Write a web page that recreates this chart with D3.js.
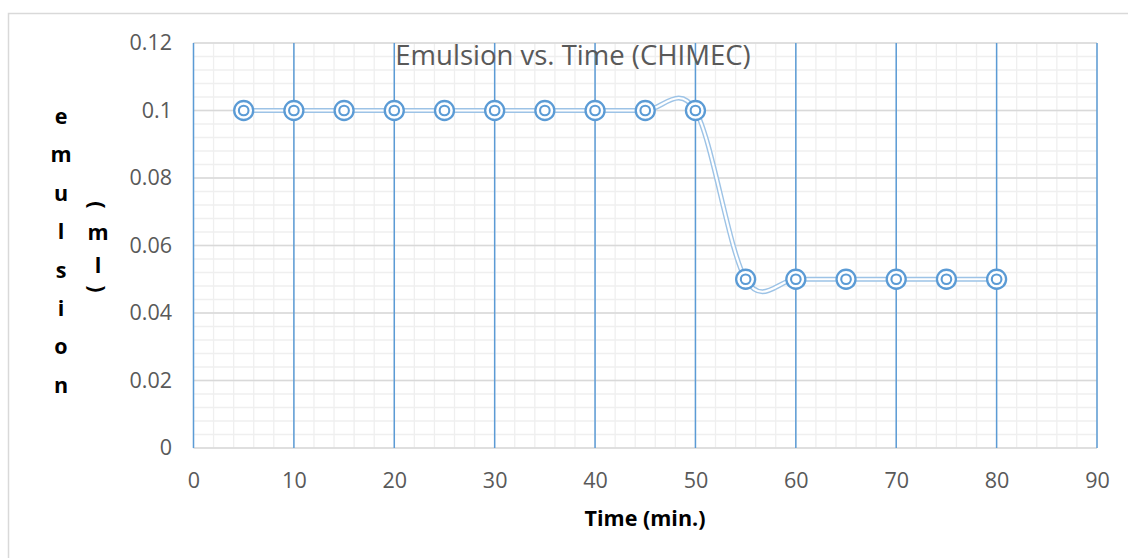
<!DOCTYPE html>
<html><head><meta charset="utf-8">
<script src="https://cdn.jsdelivr.net/npm/d3@7"></script>
<style>body{margin:0;background:#fff}svg{display:block}</style>
</head><body>
<svg id="c" width="1128" height="558"></svg>
<script>
const times = [5,10,15,20,25,30,35,40,45,50,55,60,65,70,75,80];
const emulsion = [0.1,0.1,0.1,0.1,0.1,0.1,0.1,0.1,0.1,0.1,0.05,0.05,0.05,0.05,0.05,0.05];
const xTicks = [0,10,20,30,40,50,60,70,80,90];
const yTicks = [0,0.02,0.04,0.06,0.08,0.1,0.12];
const yLabelChars = ["e","m","u","l","s","i","o","n"];
const unitChars = ["(","m","l",")"];
const title = "Emulsion vs. Time (CHIMEC)";
const xTitle = "Time (min.)";

const svg = d3.select("#c");
const font = "'Open Sans', sans-serif";
const x = d3.scaleLinear().domain([0,90]).range([193.5,1097]);
const y = d3.scaleLinear().domain([0,0.12]).range([448,43]);

// chart border
svg.append("path").attr("d","M8.5,570V13.5H1140").attr("fill","none").attr("stroke","#d9d9d9").attr("stroke-width",1.5);

// minor grid
const g = svg.append("g");
g.selectAll(".mh").data(d3.range(0,0.1201,0.004)).join("line")
 .attr("x1",x(0)).attr("x2",x(90)).attr("y1",d=>y(d)).attr("y2",d=>y(d))
 .attr("stroke","#efefef").attr("stroke-width",1.3);
g.selectAll(".mv").data(d3.range(0,90.01,2)).join("line")
 .attr("y1",y(0)).attr("y2",y(0.12)).attr("x1",d=>x(d)).attr("x2",d=>x(d))
 .attr("stroke","#efefef").attr("stroke-width",1.3);
// major horizontal
g.selectAll(".Mh").data(yTicks).join("line")
 .attr("x1",x(0)).attr("x2",x(90)).attr("y1",d=>y(d)).attr("y2",d=>y(d))
 .attr("stroke","#d9d9d9").attr("stroke-width",1.3);
// major vertical (blue)
g.selectAll(".Mv").data(xTicks).join("line")
 .attr("y1",y(0)).attr("y2",y(0.12)).attr("x1",d=>x(d)).attr("x2",d=>x(d))
 .attr("stroke","#5b9bd5").attr("stroke-width",1.5);

// axes tick labels
const xa = svg.append("g").attr("transform",`translate(0,${y(0)})`)
 .call(d3.axisBottom(x).tickValues(xTicks).tickSize(0).tickPadding(25).tickFormat(d3.format("d")));
xa.select(".domain").remove();
xa.selectAll("text").attr("font-family",font).attr("font-size",21.5).attr("fill","#595959");
const ya = svg.append("g").attr("transform",`translate(172,0)`)
 .call(d3.axisLeft(y).tickValues(yTicks).tickSize(0).tickPadding(0).tickFormat(d=>d===0?"0":String(+d.toFixed(2))));
ya.select(".domain").remove();
ya.selectAll("text").attr("font-family",font).attr("font-size",21.5).attr("fill","#595959");

// title
svg.append("text").attr("x",573).attr("y",65).attr("text-anchor","middle")
 .attr("font-family",font).attr("font-size",27.5).attr("fill","#595959").text(title);

// series line (double compound line)
const line = d3.line().x((d,i)=>x(times[i])).y(d=>y(d)).curve(d3.curveCardinal.tension(0));
svg.append("path").attr("d",line(emulsion)).attr("fill","none").attr("stroke","#9dc3e6").attr("stroke-width",5);
svg.append("path").attr("d",line(emulsion)).attr("fill","none").attr("stroke","#fff").attr("stroke-width",2.2);

// markers
const m = svg.append("g").selectAll("g").data(emulsion).join("g")
 .attr("transform",(d,i)=>`translate(${x(times[i])},${y(d)})`);
m.append("circle").attr("r",9.5).attr("fill","#fff").attr("stroke","#5b9bd5").attr("stroke-width",2.3);
m.append("circle").attr("r",4.8).attr("fill","#fff").attr("stroke","#5b9bd5").attr("stroke-width",2.1);

// x title
svg.append("text").attr("x",645).attr("y",526).attr("text-anchor","middle")
 .attr("font-family",font).attr("font-weight",700).attr("font-size",21.5).attr("fill","#000").text(xTitle);

// y title stacked
svg.append("g").selectAll("text").data(yLabelChars).join("text")
 .attr("x",61).attr("y",(d,i)=>124+i*38.4).attr("text-anchor","middle")
 .attr("font-family",font).attr("font-weight",700).attr("font-size",21.5).attr("fill","#000").text(d=>d);
const unitY = [205,233,266,289];
svg.append("g").selectAll("text").data(unitChars).join("text")
 .attr("transform",(d,i)=> (d==="("||d===")") ? `translate(98,${unitY[i]}) rotate(90)` : `translate(98,${unitY[i]+7})`)
 .attr("text-anchor","middle").attr("dy",(d)=>(d==="("||d===")")?"0.35em":0)
 .attr("font-family",font).attr("font-weight",700).attr("font-size",21.5).attr("fill","#000").text(d=>d);
</script>
</body></html>
